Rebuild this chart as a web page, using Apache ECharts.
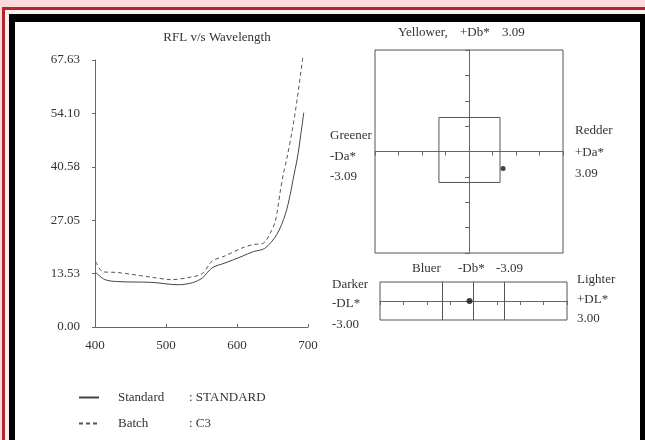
<!DOCTYPE html>
<html>
<head>
<meta charset="utf-8">
<script src="https://cdn.jsdelivr.net/npm/echarts@6/dist/echarts.min.js"></script>
<style>
  body { margin: 0; background: #fbdadd; }
  .red-frame { position: absolute; left: 2px; top: 7px; width: 643px; height: 433px;
    border-left: 3px solid #b3262c; border-top: 3px solid #b3262c; background: #fdf0f1; box-sizing: border-box; }
  .black-frame { position: absolute; left: 9px; top: 14px; width: 625px; height: 418px;
    border-left: 6px solid #000; border-top: 8px solid #000; border-right: 5px solid #000; background: #fff; }
  #chart { position: absolute; left: 0; top: 0; width: 645px; height: 440px; }
</style>
</head>
<body>
<div class='red-frame'></div>
<div class='black-frame'></div>
<div id='chart'></div>
<script>
// reflectance curves (wavelength nm / RFL %)
const stdNm = [401, 414, 432, 480, 517, 537, 551, 565, 583, 607, 623, 639, 656, 668, 675, 679, 685, 690, 694]
const stdRfl = [13.8, 12.0, 11.5, 11.3, 10.7, 11.2, 12.4, 15.0, 16.2, 17.9, 19.1, 19.9, 23.4, 28.5, 33.6, 37.4, 42.8, 48.9, 54.3]
const batchNm = [401, 411, 432, 480, 508, 531, 551, 565, 583, 607, 623, 637, 646, 654, 661, 665, 670, 678, 685, 693]
const batchRfl = [16.6, 14.0, 13.8, 12.6, 12.0, 12.5, 13.5, 16.7, 18.0, 20.0, 20.9, 21.2, 23.5, 26.8, 34.4, 38.5, 42.5, 50.0, 58.0, 68.8]
const wlTicks = [400, 500, 600, 700]

// colour difference plots (in tick units)
const abPoint = [1.45, -0.67]
const abToleranceBox = [[-1.28, -1.22], [1.32, 1.34]]
const dlPoint = [-0.17, 0]
const dlDividers = [-1.33, 0, 1.33]

const legendNames = ['Standard', 'Batch']
const legendValues = { Standard: 'STANDARD', Batch: 'C3' }

const serif = 'Liberation Serif'
const ink = '#333'
const axisCol = '#666'

// side captions: text, x, y, align
const captions = [
  ['RFL v/s Wavelength', 217, 38, 'center'],
  ['Yellower,', 398, 33, 'left'], ['+Db*', 460, 33, 'left'], ['3.09', 502, 33, 'left'],
  ['Greener', 330, 136, 'left'], ['-Da*', 330, 157, 'left'], ['-3.09', 330, 177, 'left'],
  ['Redder', 575, 131, 'left'], ['+Da*', 575, 153, 'left'], ['3.09', 575, 174, 'left'],
  ['Bluer', 412, 269, 'left'], ['-Db*', 458, 269, 'left'], ['-3.09', 496, 269, 'left'],
  ['Darker', 332, 285, 'left'], ['-DL*', 332, 304, 'left'], ['-3.00', 332, 325, 'left'],
  ['Lighter', 577, 280, 'left'], ['+DL*', 577, 300, 'left'], ['3.00', 577, 319, 'left']
]

const chart = echarts.init(document.getElementById('chart'))

const option = {
  animation: false,
  grid: [
    { left: 95, top: 60, width: 213, height: 267 },
    { left: 375, top: 50, width: 188, height: 203, show: true, borderColor: '#555', borderWidth: 1 },
    { left: 380, top: 282, width: 187, height: 38, show: true, borderColor: '#555', borderWidth: 1 }
  ],
  xAxis: [
    {
      gridIndex: 0, type: 'value', min: 400, max: 700, interval: 100,
      axisLine: { lineStyle: { color: axisCol, width: 1 } },
      axisTick: { inside: true, length: 3, lineStyle: { color: axisCol } },
      axisLabel: { margin: 12, color: ink, fontFamily: serif, fontSize: 13,
        formatter: v => wlTicks.includes(v) ? String(v) : '' },
      splitLine: { show: false }
    },
    {
      gridIndex: 1, type: 'value', min: -4, max: 4, interval: 1,
      axisLine: { onZero: true, lineStyle: { color: axisCol } },
      axisTick: { length: 4, lineStyle: { color: axisCol } },
      axisLabel: { show: false }, splitLine: { show: false }
    },
    {
      gridIndex: 2, type: 'value', min: -4, max: 4, interval: 1,
      axisLine: { onZero: true, lineStyle: { color: axisCol } },
      axisTick: { length: 4, lineStyle: { color: axisCol } },
      axisLabel: { show: false }, splitLine: { show: false }
    }
  ],
  yAxis: [
    {
      gridIndex: 0, type: 'value', min: 0, max: 67.63, interval: 13.526,
      axisLine: { show: true, lineStyle: { color: axisCol, width: 1 } },
      axisTick: { show: true, length: 3, lineStyle: { color: axisCol } },
      axisLabel: { margin: 15, color: ink, fontFamily: serif, fontSize: 13,
        formatter: v => v.toFixed(2) },
      splitLine: { show: false }
    },
    {
      gridIndex: 1, type: 'value', min: -4, max: 4, interval: 1,
      axisLine: { onZero: true, lineStyle: { color: axisCol } },
      axisTick: { length: 4, lineStyle: { color: axisCol } },
      axisLabel: { show: false }, splitLine: { show: false }
    },
    {
      gridIndex: 2, type: 'value', min: -1, max: 1, show: false
    }
  ],
  legend: {
    orient: 'vertical', left: 73, top: 386, itemWidth: 20, itemHeight: 10, itemGap: 13,
    data: legendNames,
    itemStyle: { opacity: 0 },
    formatter: n => `{n|${n}}{v|: ${legendValues[n]}}`,
    textStyle: {
      color: ink, fontFamily: serif, fontSize: 13,
      rich: {
        n: { width: 71, padding: [0, 0, 0, 14], color: ink, fontFamily: serif, fontSize: 13 },
        v: { color: ink, fontFamily: serif, fontSize: 13 }
      }
    }
  },
  graphic: captions.map(c => ({
    type: 'text', x: c[1], y: c[2], silent: true,
    style: { text: c[0], fill: ink, font: `13px "${serif}"`, align: c[3], verticalAlign: 'middle' }
  })),
  series: [
    {
      name: 'Standard', type: 'line', xAxisIndex: 0, yAxisIndex: 0,
      symbol: 'none', smooth: 0.3, clip: false,
      lineStyle: { color: '#444', width: 1 }, itemStyle: { color: '#444' },
      data: stdNm.map((x, i) => [x, stdRfl[i]])
    },
    {
      name: 'Batch', type: 'line', xAxisIndex: 0, yAxisIndex: 0,
      symbol: 'none', smooth: 0.3, clip: false,
      lineStyle: { color: '#555', width: 1, type: [4, 3] }, itemStyle: { color: '#555' },
      data: batchNm.map((x, i) => [x, batchRfl[i]])
    },
    {
      name: 'ab', type: 'scatter', xAxisIndex: 1, yAxisIndex: 1,
      symbolSize: 5, itemStyle: { color: '#111' },
      data: [abPoint],
      markArea: {
        silent: true,
        itemStyle: { color: 'rgba(0,0,0,0)', borderColor: '#555', borderWidth: 1 },
        data: [[{ coord: abToleranceBox[0] }, { coord: abToleranceBox[1] }]]
      }
    },
    {
      name: 'dl', type: 'scatter', xAxisIndex: 2, yAxisIndex: 2,
      symbolSize: 6, itemStyle: { color: '#111' },
      data: [dlPoint],
      markLine: {
        silent: true, symbol: 'none', label: { show: false },
        lineStyle: { color: '#555', width: 1, type: 'solid' },
        data: dlDividers.map(v => ({ xAxis: v }))
      }
    }
  ]
}

chart.setOption(option)
</script>
</body>
</html>
